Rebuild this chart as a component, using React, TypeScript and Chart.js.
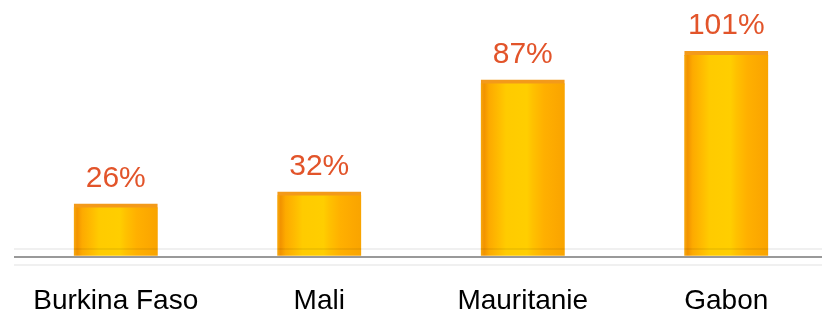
import React, { useEffect, useRef } from "react";
import { Chart, registerables } from "chart.js";

Chart.register(...registerables);

const categories = ["Burkina Faso", "Mali", "Mauritanie", "Gabon"];
const values = [26, 32, 87, 101];
const valueLabels = ["26%", "32%", "87%", "101%"];

const FONT = '"Liberation Sans", Arial, sans-serif';
const BAR_W = 84;

export default function App() {
  const ref = useRef<HTMLCanvasElement | null>(null);

  useEffect(() => {
    document.body.style.margin = "0";
    document.body.style.overflow = "hidden";
    const canvas = ref.current!;
    const labelPlugin = {
      id: "valueLabels",
      afterDatasetsDraw(chart: any) {
        const ctx = chart.ctx;
        const meta = chart.getDatasetMeta(0);
        ctx.save();
        ctx.font = `30px ${FONT}`;
        ctx.fillStyle = "#E2542A";
        ctx.textAlign = "center";
        ctx.textBaseline = "alphabetic";
        meta.data.forEach((el: any, i: number) => {
          ctx.fillText(valueLabels[i], el.x, el.y - 17);
        });
        ctx.restore();
      },
    };

    const chart = new Chart(canvas, {
      type: "bar",
      data: {
        labels: categories,
        datasets: [
          {
            data: values,
            barThickness: BAR_W,
            backgroundColor: (c: any) => {
              const chartObj = c.chart;
              const xs = chartObj.scales?.x;
              if (!xs || c.dataIndex === undefined) return "#FFC000";
              const cx = xs.getPixelForValue(c.dataIndex);
              if (!Number.isFinite(cx)) return "#FFC000";
              const x0 = cx - BAR_W / 2;
              const g = chartObj.ctx.createLinearGradient(x0, 0, x0 + BAR_W, 0);
              g.addColorStop(0, "#F7A90E");
              g.addColorStop(0.04, "#F29300");
              g.addColorStop(0.1, "#FDAA00");
              g.addColorStop(0.22, "#FFBD00");
              g.addColorStop(0.3, "#FFCB00");
              g.addColorStop(0.55, "#FFCE00");
              g.addColorStop(0.62, "#FFC100");
              g.addColorStop(0.75, "#FFB000");
              g.addColorStop(0.9, "#FCA800");
              g.addColorStop(1, "#F9A400");
              return g;
            },
            borderColor: "#F39A1A",
            borderWidth: { top: 4, left: 0, right: 0, bottom: 0 },
            borderSkipped: "bottom",
          },
        ],
      },
      options: {
        responsive: false,
        animation: false,
        layout: { padding: { left: 14, right: 8, top: 10, bottom: 0 } },
        plugins: {
          legend: { display: false },
          tooltip: { enabled: false },
          title: { display: false },
        },
        scales: {
          x: {
            grid: { display: false, drawTicks: false },
            border: { display: false },
            afterFit: (scale: any) => {
              scale.height = 47;
            },
            ticks: {
              color: "#000",
              padding: 23,
              font: { family: FONT, size: 28, lineHeight: "26px" },
            },
          },
          y: {
            min: -4,
            max: 121.3,
            afterBuildTicks: (scale: any) => {
              scale.ticks = [{ value: -4 }, { value: 0 }, { value: 4 }];
            },
            ticks: { display: false },
            border: { display: false },
            grid: {
              z: 1,
              drawTicks: false,
              color: (c: any) =>
                c.tick && c.tick.value === 0 ? "rgba(110,110,110,0.7)" : "rgba(0,0,0,0.06)",
              lineWidth: 2,
            },
          },
        },
      },
      plugins: [labelPlugin],
    } as any);
    return () => chart.destroy();
  }, []);

  return (
    <div style={{ position: "absolute", left: 0, top: 0, width: 836, height: 312 }}>
      <canvas ref={ref} width={836} height={312} style={{ display: "block" }} />
    </div>
  );
}
